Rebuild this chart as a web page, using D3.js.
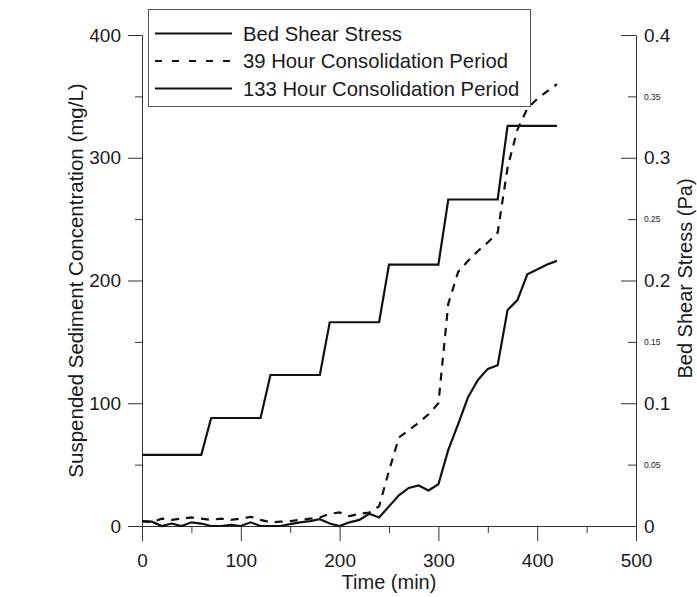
<!DOCTYPE html>
<html>
<head>
<meta charset="utf-8">
<script src="https://cdn.jsdelivr.net/npm/d3@7"></script>
<style>
  html, body { margin: 0; padding: 0; background: #fff; }
  svg { display: block; }
  text { font-family: "Liberation Sans", Arial, sans-serif; fill: #1a1a1a; }
</style>
</head>
<body>
<svg id="chart" width="697" height="597"></svg>
<script>
// ---- data ----
const timeMin = [0,10,20,30,40,50,60,70,80,90,100,110,120,130,140,150,160,170,180,190,200,210,220,230,240,250,260,270,280,290,300,310,320,330,340,350,360,370,380,390,400,410,420];
const conc39h = [4,3,6,5,6,7,6,5,6,5,6,7.5,5,3,3.5,4,5,6,7,10,11,8,10,11,16,45,72,78,84,91,100,181,207,216,224,231,239,292,323,340,348,354,360];
const conc133h = [4,3.5,0,2,0,3,2,0,0,1,0,3,0,0,0,1.5,3,4,5.5,2,0,3,5,10,7,16,25,31,33,29,34,62,83,105,119,128,131,176,184,205,209,213,216];
const shearTime = [0,60,70,120,130,180,190,240,250,300,310,360,370,420];
const shearPa = [0.058,0.058,0.088,0.088,0.123,0.123,0.166,0.166,0.213,0.213,0.266,0.266,0.326,0.326];
const xTicks = [0,100,200,300,400,500];
const xMinor = [50,150,250,350,450];
const yTicks = [0,100,200,300,400];
const yMinor = [50,150,250,350];
const y2Ticks = [0,0.1,0.2,0.3,0.4];
const y2Minor = [0.05,0.15,0.25,0.35];
const legendLabels = ["Bed Shear Stress","39 Hour Consolidation Period","133 Hour Consolidation Period"];
const xTitle = "Time (min)";
const yTitle = "Suspended Sediment Concentration (mg/L)";
const y2Title = "Bed Shear Stress (Pa)";

// ---- layout ----
const L = 142, R = 636, T = 35, B = 526;
const svg = d3.select("#chart");
const x = d3.scaleLinear().domain([0,500]).range([L,R]);
const y = d3.scaleLinear().domain([0,400]).range([B,T]);
const y2 = d3.scaleLinear().domain([0,0.4]).range([B,T]);

const axisColor = "#333";
function styleAxis(g, fs) {
  g.selectAll("path.domain").attr("stroke", axisColor).attr("stroke-width", 1);
  g.selectAll(".tick line").attr("stroke", axisColor).attr("stroke-width", 1);
  g.selectAll(".tick text").attr("fill", "#1a1a1a")
    .style("font-family", '"Liberation Sans", Arial, sans-serif')
    .style("font-size", fs + "px");
}

// bottom axis
const gx = svg.append("g").attr("transform", `translate(0,${B})`)
  .call(d3.axisBottom(x).tickValues(xTicks).tickFormat(d3.format("d")).tickSize(15).tickSizeOuter(0).tickPadding(13));
styleAxis(gx, 19);
const gxm = svg.append("g").attr("transform", `translate(0,${B})`)
  .call(d3.axisBottom(x).tickValues(xMinor).tickFormat("").tickSize(7).tickSizeOuter(0));
gxm.select("path.domain").remove();
styleAxis(gxm, 19);

// left axis
const gy = svg.append("g").attr("transform", `translate(${L},0)`)
  .call(d3.axisLeft(y).tickValues(yTicks).tickFormat(d3.format("d")).tickSize(14).tickSizeOuter(0).tickPadding(7));
styleAxis(gy, 19);
const gym = svg.append("g").attr("transform", `translate(${L},0)`)
  .call(d3.axisLeft(y).tickValues(yMinor).tickFormat("").tickSize(7).tickSizeOuter(0));
gym.select("path.domain").remove();
styleAxis(gym, 19);

// right axis (ticks pointing inward)
const gy2 = svg.append("g").attr("transform", `translate(${R},0)`)
  .call(d3.axisRight(y2).tickValues(y2Ticks).tickFormat(d => d === 0 ? "0" : d3.format(".1f")(d)).tickSizeInner(-15).tickSizeOuter(0).tickPadding(8));
styleAxis(gy2, 19);
const gy2m = svg.append("g").attr("transform", `translate(${R},0)`)
  .call(d3.axisRight(y2).tickValues(y2Minor).tickFormat(d3.format(".2f")).tickSizeInner(-8).tickSizeOuter(0).tickPadding(8));
gy2m.select("path.domain").remove();
styleAxis(gy2m, 8.5);

// titles
svg.append("text").attr("x", (L + R) / 2).attr("y", 589).attr("text-anchor", "middle")
  .style("font-size", "20px").text(xTitle);
svg.append("text").attr("transform", `translate(83,${(T + B) / 2}) rotate(-90)`).attr("text-anchor", "middle")
  .style("font-size", "20.5px").text(yTitle);
svg.append("text").attr("transform", `translate(692,${(T + B) / 2 - 2}) rotate(-90)`).attr("text-anchor", "middle")
  .style("font-size", "20px").text(y2Title);

// lines
const line = d3.line().x(d => x(d[0])).y(d => y(d[1]));
const line2 = d3.line().x(d => x(d[0])).y(d => y2(d[1]));
svg.append("path").datum(shearTime.map((t, i) => [t, shearPa[i]]))
  .attr("d", line2).attr("fill", "none").attr("stroke", "#111").attr("stroke-width", 2.2);
svg.append("path").datum(timeMin.map((t, i) => [t, conc39h[i]]))
  .attr("d", line).attr("fill", "none").attr("stroke", "#111").attr("stroke-width", 2.2).attr("stroke-dasharray", "8,7");
svg.append("path").datum(timeMin.map((t, i) => [t, conc133h[i]]))
  .attr("d", line).attr("fill", "none").attr("stroke", "#111").attr("stroke-width", 2.2);

// legend
const lg = svg.append("g");
lg.append("rect").attr("x", 148.5).attr("y", 9.5).attr("width", 382).attr("height", 97)
  .attr("fill", "#fff").attr("stroke", "#555").attr("stroke-width", 1);
const dashes = [null, "7,10", null];
const rowY = [33.5, 61, 88.5];
legendLabels.forEach((lab, i) => {
  lg.append("line").attr("x1", 155).attr("x2", 232).attr("y1", rowY[i]).attr("y2", rowY[i])
    .attr("stroke", "#111").attr("stroke-width", 2.2).attr("stroke-dasharray", dashes[i]);
  lg.append("text").attr("x", 243).attr("y", rowY[i] + 7).style("font-size", "20.3px").text(lab);
});
</script>
</body>
</html>
